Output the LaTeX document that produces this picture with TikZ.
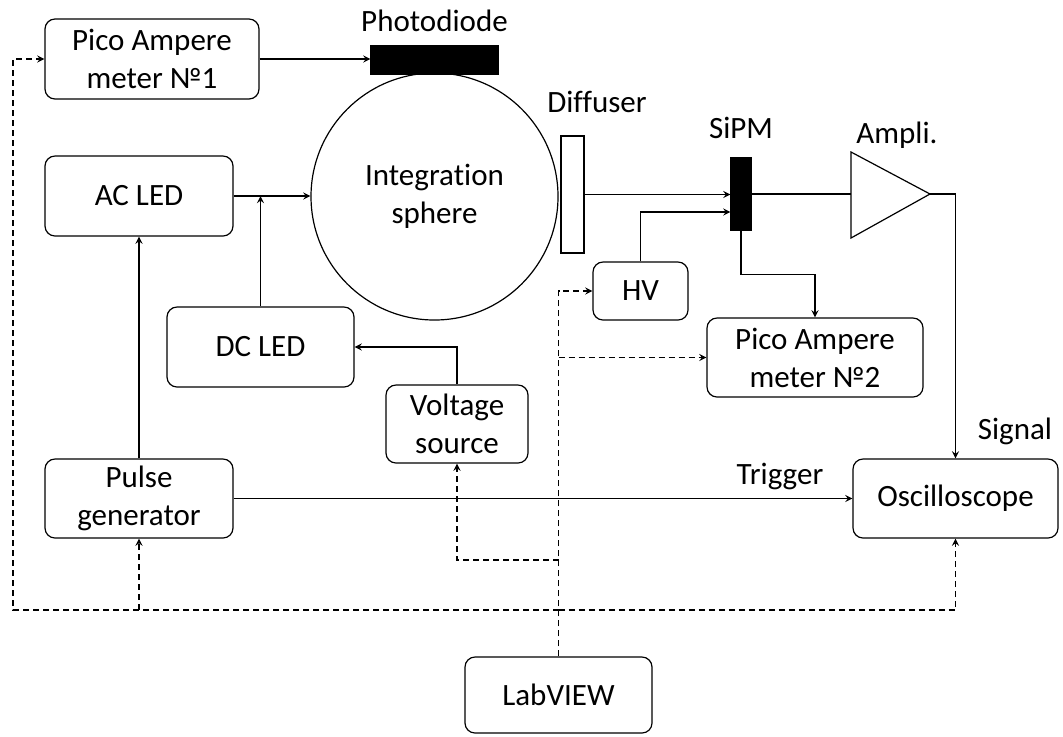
\documentclass[tikz,border=0pt]{standalone}
\usepackage{fontspec}
\setmainfont{Carlito}[Ligatures=NoCommon]
\usetikzlibrary{positioning}

\begin{document}
\begin{tikzpicture}[->,>=stealth,semithick,x=0.5pt,y=-0.5pt]
\tikzstyle{block}=[draw=black,rounded corners=5pt,align=center,inner sep=0pt,font=\fontsize{15.5}{19}\selectfont]
\tikzstyle{plate}=[draw=black,inner sep=0pt]
\tikzstyle{lbl}=[anchor=base,font=\fontsize{15.5}{19}\selectfont]
\tikzstyle{ctrl}=[dash pattern=on 3pt off 2pt]

\useasboundingbox (0,0) rectangle (1063,736);

% instruments
\node[block,minimum width=107pt,minimum height=40pt] (pico1) at (152,59) {Pico Ampere\\meter №1};
\node[block,minimum width=94pt,minimum height=40pt] (acled) at (139,196) {AC LED};
\node[block,minimum width=93.5pt,minimum height=40pt] (dcled) at (260.5,347) {DC LED};
\node[block,minimum width=71pt,minimum height=39pt] (volt) at (457,424) {Voltage\\source};
\node[block,minimum width=94pt,minimum height=39.5pt] (pulse) at (139,498.5) {Pulse\\generator};
\node[block,minimum width=102.5pt,minimum height=39.5pt] (osc) at (955.5,498.5) {Oscilloscope};
\node[block,minimum width=47.5pt,minimum height=29pt] (hv) at (640.5,291) {HV};
\node[block,minimum width=108pt,minimum height=39.5pt] (pico2) at (815,357.5) {Pico Ampere\\meter №2};
\node[block,minimum width=93.5pt,minimum height=38pt] (labview) at (558.5,695) {LabVIEW};

% optics
\node[circle,draw=black,minimum size=123.5pt,inner sep=0pt,align=center,font=\fontsize{15.5}{19}\selectfont] (sphere) at (434.5,196.5) {Integration\\sphere};
\node[plate,fill=black,minimum width=63.5pt,minimum height=14pt] (photo) at (434.5,60) {};
\node[plate,fill=white,minimum width=11.5pt,minimum height=58.5pt] (diff) at (572.5,194.5) {};
\node[plate,fill=black,minimum width=10pt,minimum height=36pt] (sipm) at (741,194) {};
\coordinate (ampin) at (851,194);
\coordinate (ampout) at (930,194);
\draw[-] (851,152) -- (ampout) -- (851,238) -- cycle;

\node[lbl] at (434.5,31) {Photodiode};
\node[lbl] at (597,112) {Diffuser};
\node[lbl] at (741,138) {SiPM};
\node[lbl] at (897,143) {Ampli.};
\node[lbl] at (1015,439) {Signal};
\node[lbl] at (780,484) {Trigger};

% signal lines
\draw (pico1.east) -- (pico1.east -| photo.west);
\draw (acled.east) -- (acled.east -| sphere.west);
\draw (dcled.north) -- (dcled.north |- acled.east);
\draw (volt.north) |- (dcled.east);
\draw (pulse.north) -- (acled.south);
\draw (pulse.east) -- (pulse.east -| osc.west);
\draw (diff.east) -- (diff.east -| sipm.west);
\draw (hv.north) |- ([yshift=-9pt]sipm.west);
\draw (sipm.south) -- ++(0,44) -| (pico2.north);
\draw[-] (sipm.east) -- (ampin);
\draw (ampout) -| (osc.north);

% control lines
\coordinate (vbus) at (558.5,560);
\coordinate (bus) at (558.5,610);
\coordinate (corner) at (13,610);
\draw[ctrl] (labview.north) |- (hv.west);
\draw[ctrl] (labview.north |- pico2.west) -- (pico2.west);
\draw[ctrl] (vbus) -| (volt.south);
\draw[ctrl] (bus) -| (osc.south);
\draw[ctrl] (bus) -| (pulse.south);
\draw[ctrl] (bus) -- (corner) |- (pico1.west);
\end{tikzpicture}
\end{document}
